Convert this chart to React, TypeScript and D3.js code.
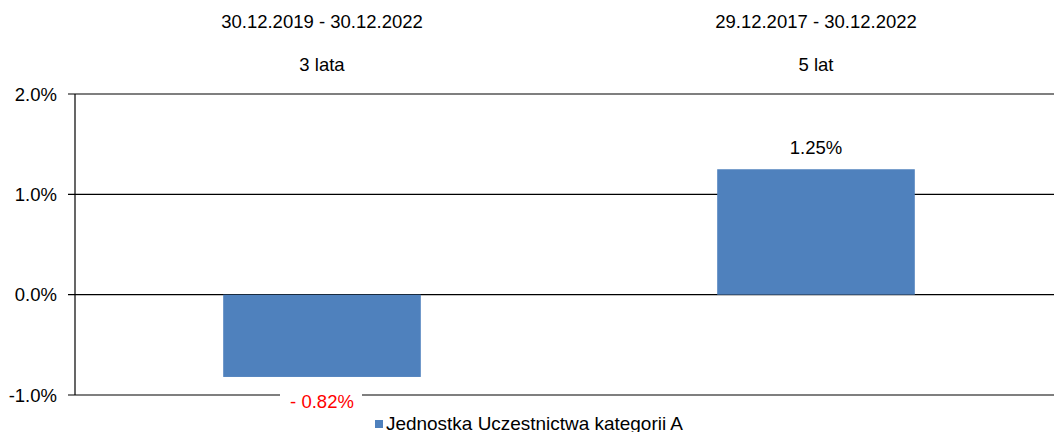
import React from "react";
import * as d3 from "d3";

const periods = ["30.12.2019 - 30.12.2022", "29.12.2017 - 30.12.2022"];
const durations = ["3 lata", "5 lat"];
const values = [-0.82, 1.25];
const yTicks = [-1, 0, 1, 2];
const seriesName = "Jednostka Uczestnictwa kategorii A";

const W = 1054;
const H = 432;
const FONT = "'Liberation Sans', Arial, sans-serif";
const FS = 18.5;

export default function App() {
  const y = d3.scaleLinear().domain([-1, 2]).range([395, 94]);
  const x = d3.scaleBand<string>().domain(periods).range([75, 1063]).padding(0);
  const bw = x.bandwidth() * 0.4;
  const fmtTick = (v: number) => `${v.toFixed(1)}%`;
  const fmtVal = (v: number) => (v < 0 ? `- ${Math.abs(v).toFixed(2)}%` : `${v.toFixed(2)}%`);

  return (
    <svg width={W} height={H} style={{ position: "absolute", left: 0, top: 0 }} fontFamily={FONT}>
      <rect width={W} height={H} fill="#fff" />
      {/* top category labels */}
      {periods.map((p, i) => {
        const cx = (x(p) as number) + x.bandwidth() / 2;
        return (
          <g key={p}>
            <text x={cx} y={28} textAnchor="middle" fontSize={FS} fill="#000">{p}</text>
            <text x={cx} y={71} textAnchor="middle" fontSize={FS} fill="#000">{durations[i]}</text>
          </g>
        );
      })}
      {/* gridlines + ticks */}
      {yTicks.map((t) => (
        <g key={t}>
          <line x1={68} x2={W} y1={y(t)} y2={y(t)} stroke="#000" strokeWidth={1.2} />
          <text x={57} y={y(t) + 6.5} textAnchor="end" fontSize={FS} fill="#000">{fmtTick(t)}</text>
        </g>
      ))}
      <line x1={75} x2={75} y1={y(2)} y2={y(-1)} stroke="#000" strokeWidth={1.2} />
      {/* bars */}
      {periods.map((p, i) => {
        const cx = (x(p) as number) + x.bandwidth() / 2;
        const v = values[i];
        return (
          <rect key={p} x={cx - bw / 2} width={bw} y={Math.min(y(v), y(0))} height={Math.abs(y(v) - y(0))} fill="#4F81BD" />
        );
      })}
      {/* value labels */}
      {periods.map((p, i) => {
        const cx = (x(p) as number) + x.bandwidth() / 2;
        const v = values[i];
        const neg = v < 0;
        const ty = neg ? y(v) + 31 : y(v) - 15;
        return (
          <g key={p}>
            {neg && <rect x={cx - 42} y={ty - 17} width={82} height={22} fill="#fff" />}
            <text x={cx} y={ty} textAnchor="middle" fontSize={FS} fill={neg ? "#FF0000" : "#000"}>{fmtVal(v)}</text>
          </g>
        );
      })}
      {/* legend */}
      <rect x={375} y={420} width={8} height={8} fill="#4F81BD" />
      <text x={386} y={430} fontSize={FS} fill="#000" textLength={297} lengthAdjust="spacingAndGlyphs">{seriesName}</text>
    </svg>
  );
}
